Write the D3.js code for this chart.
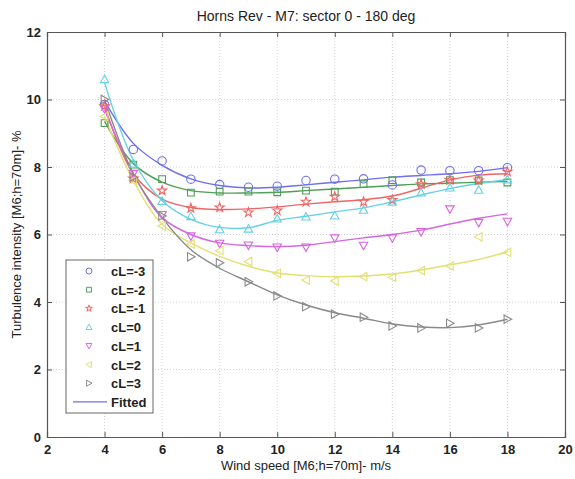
<!DOCTYPE html>
<html>
<head>
<meta charset="utf-8">
<script src="https://cdn.jsdelivr.net/npm/d3@7"></script>
<style>
  body { margin: 0; background: #fff; }
  text { font-family: "Liberation Sans", Arial, sans-serif; }
</style>
</head>
<body>
<div id="main"></div>
<script>
var ctx = {
    w: 575,
    h: 479,
    left: 47,
    right: 565,
    top: 32,
    bottom: 437,
};

var windSpeed = [4, 5, 6, 7, 8, 9, 10, 11, 12, 13, 14, 15, 16, 17, 18];
var xTicks = [2, 4, 6, 8, 10, 12, 14, 16, 18, 20];
var yTicks = [0, 2, 4, 6, 8, 10, 12];

// measured values per stability class
var measM3 = [9.85, 8.52, 8.18, 7.64, 7.48, 7.4, 7.43, 7.6, 7.64, 7.65, 7.47, 7.91, 7.89, 7.89, 7.98];
var measM2 = [9.3, 8.07, 7.64, 7.24, 7.27, 7.27, 7.25, 7.3, 7.27, 7.49, 7.61, 7.54, 7.61, 7.6, 7.54];
var measM1 = [9.8, 7.66, 7.3, 6.78, 6.8, 6.65, 6.71, 6.97, 7.12, 6.97, 7.02, 7.49, 7.61, 7.6, 7.86];
var meas0 = [10.6, 8.1, 6.99, 6.54, 6.15, 6.17, 6.47, 6.53, 6.56, 6.73, 6.97, 7.24, 7.39, 7.32, 7.63];
var measP1 = [9.72, 7.8, 6.58, 5.95, 5.73, 5.68, 5.62, 5.62, 5.89, 5.67, 5.89, 6.08, 6.75, 6.35, 6.38];
var measP2 = [9.5, 7.6, 6.25, 5.72, 5.52, 5.2, 4.85, 4.65, 4.62, 4.75, 4.73, 4.93, 5.07, 5.93, 5.47];
var measP3 = [10.0, 7.7, 6.55, 5.34, 5.16, 4.6, 4.18, 3.86, 3.64, 3.55, 3.29, 3.23, 3.37, 3.23, 3.49];

// fitted curves read at each wind speed
var fitM3 = [9.95, 8.7, 8.05, 7.65, 7.45, 7.38, 7.4, 7.47, 7.55, 7.62, 7.7, 7.75, 7.8, 7.87, 7.98];
var fitM2 = [9.35, 8.1, 7.55, 7.3, 7.23, 7.23, 7.25, 7.3, 7.35, 7.4, 7.45, 7.5, 7.52, 7.55, 7.57];
var fitM1 = [9.8, 7.8, 7.05, 6.8, 6.74, 6.76, 6.82, 6.9, 6.97, 7.03, 7.14, 7.37, 7.62, 7.76, 7.8];
var fit0 = [10.5, 8.2, 7.0, 6.45, 6.21, 6.2, 6.42, 6.54, 6.67, 6.79, 6.97, 7.17, 7.36, 7.51, 7.63];
var fitP1 = [9.7, 7.8, 6.5, 6.0, 5.75, 5.67, 5.64, 5.68, 5.79, 5.9, 6.0, 6.13, 6.31, 6.48, 6.61];
var fitP2 = [9.5, 7.6, 6.3, 5.75, 5.35, 5.06, 4.86, 4.78, 4.75, 4.77, 4.83, 4.95, 5.1, 5.26, 5.49];
var fitP3 = [10.0, 7.8, 6.5, 5.55, 5.0, 4.6, 4.21, 3.91, 3.68, 3.52, 3.35, 3.26, 3.24, 3.32, 3.49];

var seriesNames = ["cL=-3", "cL=-2", "cL=-1", "cL=0", "cL=1", "cL=2", "cL=3"];
var seriesColors = ["#6f6ff0", "#4f9f57", "#f26464", "#66d2e6", "#d865e0", "#e2e070", "#8a8a8a"];
var seriesMarkers = ["circle", "square", "star", "tri-up", "tri-down", "tri-left", "tri-right"];
var measured = [measM3, measM2, measM1, meas0, measP1, measP2, measP3];
var fitted = [fitM3, fitM2, fitM1, fit0, fitP1, fitP2, fitP3];

var x = d3.scaleLinear().domain([2, 20]).range([ctx.left, ctx.right]);
var y = d3.scaleLinear().domain([0, 12]).range([ctx.bottom, ctx.top]);

function markerPath(kind, s) {
    // s = half size
    if (kind == "circle") {
        return d3.symbol().type(d3.symbolCircle).size(Math.PI * s * s)();
    }
    if (kind == "square") {
        return `M${-s * 0.8},${-s * 0.8}H${s * 0.8}V${s * 0.8}H${-s * 0.8}Z`;
    }
    if (kind == "star") {
        return d3.symbol().type(d3.symbolStar).size(s * s * 1.5)();
    }
    var pts;
    if (kind == "tri-up") pts = [[0, -s], [s, s * 0.8], [-s, s * 0.8]];
    if (kind == "tri-down") pts = [[0, s], [s, -s * 0.8], [-s, -s * 0.8]];
    if (kind == "tri-left") pts = [[-s, 0], [s * 0.8, -s], [s * 0.8, s]];
    if (kind == "tri-right") pts = [[s, 0], [-s * 0.8, -s], [-s * 0.8, s]];
    return "M" + pts.join("L") + "Z";
}

var svg = d3.select("#main").append("svg")
    .attr("width", ctx.w)
    .attr("height", ctx.h);

// grid
var grid = svg.append("g").attr("stroke", "#d4d4d4").attr("stroke-dasharray", "1,2").attr("stroke-width", 1);
grid.selectAll("line.vx")
    .data(xTicks.slice(1, -1))
    .enter().append("line")
    .attr("x1", (d) => x(d)).attr("x2", (d) => x(d))
    .attr("y1", ctx.top).attr("y2", ctx.bottom);
grid.selectAll("line.hy")
    .data(yTicks.slice(1, -1))
    .enter().append("line")
    .attr("y1", (d) => y(d)).attr("y2", (d) => y(d))
    .attr("x1", ctx.left).attr("x2", ctx.right);

// axes
var xAxis = svg.append("g")
    .attr("transform", `translate(0,${ctx.bottom})`)
    .call(d3.axisBottom(x).tickValues(xTicks).tickSize(-5).tickPadding(8));
var xAxisTop = svg.append("g")
    .attr("transform", `translate(0,${ctx.top})`)
    .call(d3.axisTop(x).tickValues(xTicks).tickSize(-5).tickFormat(""));
var yAxis = svg.append("g")
    .attr("transform", `translate(${ctx.left},0)`)
    .call(d3.axisLeft(y).tickValues(yTicks).tickSize(-5).tickPadding(6));
var yAxisRight = svg.append("g")
    .attr("transform", `translate(${ctx.right},0)`)
    .call(d3.axisRight(y).tickValues(yTicks).tickSize(-5).tickFormat(""));

[xAxis, xAxisTop, yAxis, yAxisRight].forEach(function (g) {
    g.select(".domain").attr("stroke", "#555").attr("stroke-width", 1.2);
    g.selectAll(".tick line").attr("stroke", "#555");
    g.selectAll(".tick text")
        .attr("fill", "#222")
        .style("font-size", "13px")
        .style("font-weight", "bold")
        .style("font-family", "Liberation Sans, Arial, sans-serif");
});

// fitted lines
var line = d3.line()
    .x((d) => x(d[0]))
    .y((d) => y(d[1]))
    .curve(d3.curveCatmullRom.alpha(0.5));

var plot = svg.append("g");
fitted.forEach(function (vals, i) {
    plot.append("path")
        .datum(windSpeed.map((ws, j) => [ws, vals[j]]))
        .attr("d", line)
        .attr("fill", "none")
        .attr("stroke", seriesColors[i])
        .attr("stroke-width", 1.4);
});

// measured markers
measured.forEach(function (vals, i) {
    plot.append("g").selectAll("path")
        .data(windSpeed.map((ws, j) => [ws, vals[j]]))
        .enter().append("path")
        .attr("transform", (d) => `translate(${x(d[0])},${y(d[1])})`)
        .attr("d", markerPath(seriesMarkers[i], 4.2))
        .attr("fill", "none")
        .attr("stroke", seriesColors[i])
        .attr("stroke-width", 1.1);
});

// title and labels
svg.append("text")
    .attr("x", (ctx.left + ctx.right) / 2)
    .attr("y", 21)
    .attr("text-anchor", "middle")
    .style("font-size", "14px")
    .attr("fill", "#222")
    .text("Horns Rev - M7: sector 0 - 180 deg");

svg.append("text")
    .attr("x", (ctx.left + ctx.right) / 2)
    .attr("y", 470)
    .attr("text-anchor", "middle")
    .style("font-size", "13px")
    .attr("fill", "#222")
    .text("Wind speed [M6;h=70m]- m/s");

svg.append("text")
    .attr("transform", `translate(21,${(ctx.top + ctx.bottom) / 2}) rotate(-90)`)
    .attr("text-anchor", "middle")
    .style("font-size", "13px")
    .attr("fill", "#222")
    .text("Turbulence intensity [M6;h=70m]- %");

// legend
var legend = svg.append("g");
legend.append("rect")
    .attr("x", 66).attr("y", 260)
    .attr("width", 87).attr("height", 153)
    .attr("fill", "#fff")
    .attr("stroke", "#666")
    .attr("stroke-width", 1);

var legendRows = seriesNames.concat(["Fitted"]);
legendRows.forEach(function (name, i) {
    var ly = 271 + i * 18.7;
    if (i < seriesNames.length) {
        legend.append("path")
            .attr("transform", `translate(89,${ly})`)
            .attr("d", markerPath(seriesMarkers[i], 3))
            .attr("fill", "none")
            .attr("stroke", seriesColors[i])
            .attr("stroke-width", 1);
    } else {
        legend.append("line")
            .attr("x1", 73).attr("x2", 107)
            .attr("y1", ly).attr("y2", ly)
            .attr("stroke", seriesColors[0])
            .attr("stroke-width", 1.4);
    }
    legend.append("text")
        .attr("x", 111)
        .attr("y", ly + 5)
        .style("font-size", "13px")
        .style("font-weight", "bold")
        .attr("fill", "#222")
        .text(name);
});
</script>
</body>
</html>
